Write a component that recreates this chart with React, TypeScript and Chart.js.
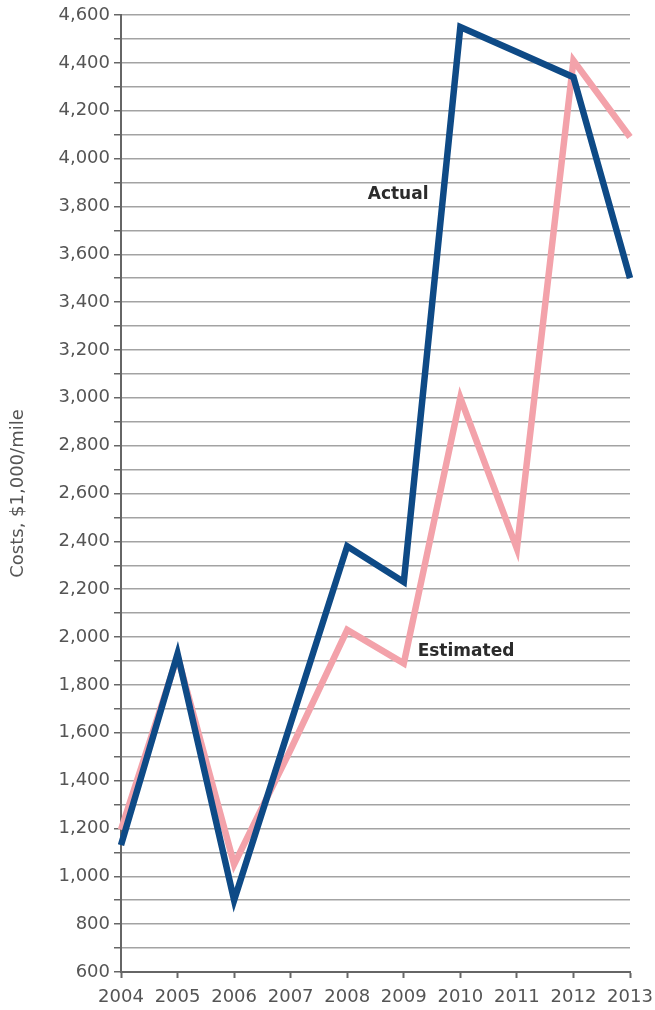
import React, { useEffect, useRef } from "react";
import { Chart, registerables } from "chart.js";

Chart.register(...registerables);

const years = ["2004", "2005", "2006", "2007", "2008", "2009", "2010", "2011", "2012", "2013"];
const actual = [1130, 1930, 900, 1640, 2380, 2230, 4550, 4445, 4340, 3500];
const estimated = [1195, 1920, 1050, 1530, 2030, 1890, 3000, 2370, 4410, 4090];
const yMin = 600;
const yMax = 4600;
const yStep = 100;
const yTitle = "Costs, $1,000/mile";
const seriesLabels = ["Actual", "Estimated"];

const FONT = "'DejaVu Sans', sans-serif";

const labelPlugin = {
  id: "seriesLabels",
  afterDatasetsDraw(chart: any) {
    const { ctx } = chart;
    const x = chart.scales.x;
    const y = chart.scales.y;
    ctx.save();
    ctx.font = "bold 17px " + FONT;
    ctx.fillStyle = "#2b2b2b";
    ctx.textAlign = "center";
    ctx.textBaseline = "middle";
    ctx.fillText(seriesLabels[0], x.getPixelForValue(4.9), y.getPixelForValue(3848));
    ctx.fillText(seriesLabels[1], x.getPixelForValue(6.1), y.getPixelForValue(1940));
    ctx.restore();
  },
};

export default function App() {
  const ref = useRef<HTMLCanvasElement | null>(null);
  useEffect(() => {
    if (!ref.current) return;
    const chart = new Chart(ref.current, {
      type: "line",
      data: {
        labels: years,
        datasets: [
          {
            label: seriesLabels[0],
            data: actual,
            borderColor: "#0e4a86",
            backgroundColor: "#0e4a86",
            borderWidth: 6.5,
            pointRadius: 0,
            tension: 0,
            borderJoinStyle: "miter",
            clip: false as any,
          },
          {
            label: seriesLabels[1],
            data: estimated,
            borderColor: "#f3a2aa",
            backgroundColor: "#f3a2aa",
            borderWidth: 6.5,
            pointRadius: 0,
            tension: 0,
            borderJoinStyle: "miter",
            clip: false as any,
          },
        ],
      },
      options: {
        animation: false,
        responsive: false,
        maintainAspectRatio: false,
        layout: { padding: { top: 15, right: 25, left: 0, bottom: 0 } },
        plugins: {
          legend: { display: false },
          tooltip: { enabled: false },
        },
        scales: {
          x: {
            type: "category",
            offset: false,
            grid: {
              display: true,
              drawOnChartArea: false,
              drawTicks: true,
              tickLength: 6,
              tickColor: "#666",
              tickWidth: 2,
            },
            border: { display: true, color: "#666", width: 2 },
            ticks: {
              color: "#555",
              font: { family: FONT, size: 18 },
              padding: 9,
              maxRotation: 0,
              autoSkip: false,
            },
            afterFit(scale: any) {
              scale.height = 38;
              scale.paddingLeft = 0;
              scale.paddingRight = 0;
            },
          },
          y: {
            type: "linear",
            min: yMin,
            max: yMax,
            grid: {
              color: "#a3a3a3",
              lineWidth: 1.5,
              tickLength: 7,
              tickColor: "#666",
              tickWidth: 1.5,
            },
            border: { display: true, color: "#666", width: 2 },
            ticks: {
              stepSize: yStep,
              autoSkip: false,
              color: "#555",
              font: { family: FONT, size: 18 },
              padding: 4,
              callback: (v: any) => (Number(v) % 200 === 0 ? Number(v).toLocaleString("en-US") : ""),
            },
            title: {
              display: true,
              text: yTitle,
              color: "#555",
              font: { family: FONT, size: 18 },
              padding: { top: 8, bottom: 0 },
            },
            afterFit(scale: any) {
              scale.width = 121;
            },
          },
        },
      },
      plugins: [labelPlugin],
    });
    return () => chart.destroy();
  }, []);
  return (
    <div style={{ position: "absolute", left: 0, top: 0, width: 655, height: 1010, background: "#fff" }}>
      <canvas ref={ref} width={655} height={1010} style={{ display: "block", width: 655, height: 1010 }} />
    </div>
  );
}
